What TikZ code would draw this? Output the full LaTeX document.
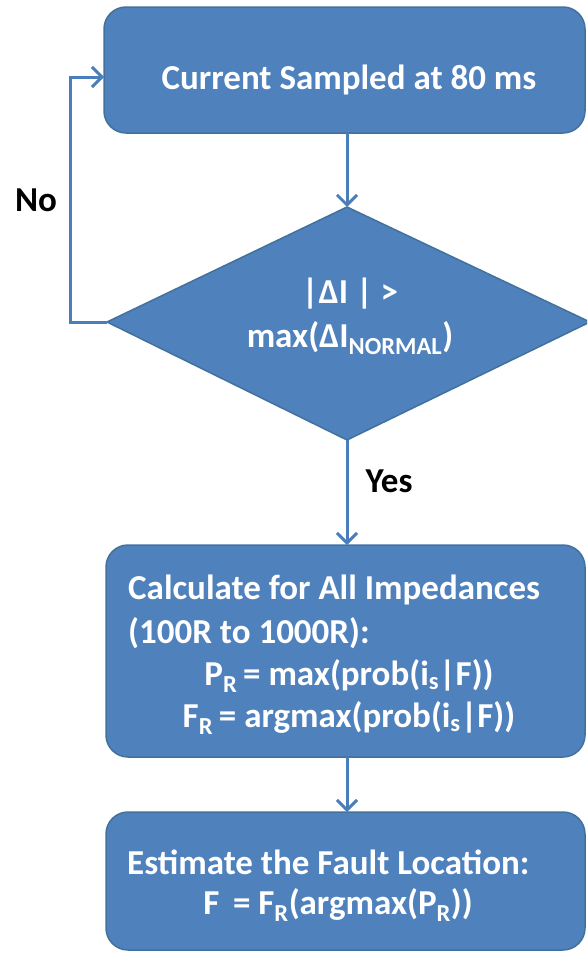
\documentclass[tikz,border=0pt]{standalone}
\usepackage{fontspec}
\setmainfont{Carlito}
\usetikzlibrary{arrows.meta,shapes.geometric}
\definecolor{boxfill}{HTML}{4F81BD}
\definecolor{boxedge}{HTML}{41719C}
\definecolor{linkc}{HTML}{4A7EBB}
\newcommand\sbs[1]{\textsubscript{#1}}
\begin{document}
\begin{tikzpicture}[x=1pt,y=-1pt,
  procbox/.style={draw=boxedge,fill=boxfill,line width=1.5pt,rounded corners=22pt},
  decbox/.style={draw=boxedge,fill=boxfill,line width=1.5pt},
  wtxt/.style={text=white,font=\fontsize{35}{42}\selectfont\bfseries,inner sep=0pt},
  btxt/.style={text=black,font=\fontsize{35}{42}\selectfont\bfseries,inner sep=0pt},
  link/.style={draw=linkc,line width=3pt,-{Straight Barb[length=10pt,width=20pt,line width=3pt]}},
  plainlink/.style={draw=linkc,line width=3pt}]
\useasboundingbox (0,0) rectangle (587,953);
\clip (0,0) rectangle (587,953);
% boxes
\draw[procbox] (104,7) rectangle (585,133);
\coordinate (b1L) at (104,77);
\coordinate (b1B) at (347,133);
\node[wtxt] (t1) at (349,80) {Current Sampled at 80 ms};
% diamond
\draw[decbox] (347,207) coordinate (dT) -- (590,322) coordinate (dR) -- (347,440) coordinate (dB) -- (107,322) coordinate (dL) -- cycle;
\node[wtxt] (t2a) at (350,294) {|ΔI | >};
\node[wtxt] (t2b) at (350,338) {max(ΔI\sbs{NORMAL})};
% box 3
\draw[procbox] (106,545) rectangle (585,757);
\coordinate (b3T) at (347,545);
\coordinate (b3B) at (347,757);
\node[wtxt,anchor=west] (t3a) at (128,590) {Calculate for All Impedances};
\node[wtxt,anchor=west] (t3b) at (128,633) {(100R to 1000R):};
\node[wtxt] (t3c) at (349,676) {P\sbs{R}\,= max(prob(i\sbs{s}|F))};
\node[wtxt] (t3d) at (349,718) {F\sbs{R}\,= argmax(prob(i\sbs{s}|F))};
% box 4
\draw[procbox] (106,812) rectangle (585,950);
\coordinate (b4T) at (347,812);
\node[wtxt,anchor=west] (t4a) at (127,862) {Estimate the Fault Location:};
\node[wtxt] (t4b) at (338,905) {F \,= F\sbs{R}(argmax(P\sbs{R}))};
% labels
\node[btxt] (no) at (36,200) {No};
\node[btxt] (yes) at (389,481) {Yes};
% connectors
\draw[link] (b1B) -- (dT);
\draw[link] (dB) -- (b3T);
\draw[link] (b3B) -- (b4T);
\draw[link] (dL) -- (70,322) -- (70,77) -- (b1L);
\end{tikzpicture}
\end{document}
